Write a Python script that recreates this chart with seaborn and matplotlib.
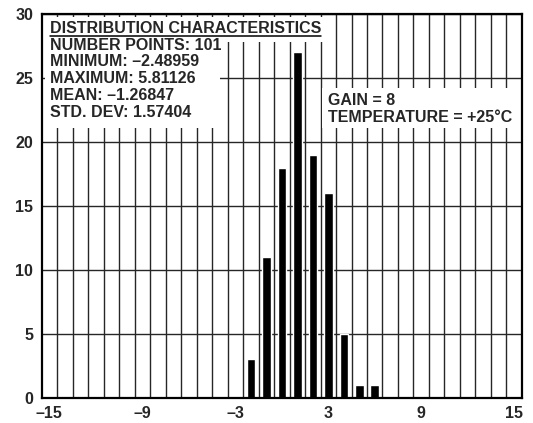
import numpy as np
import seaborn as sns
import matplotlib.pyplot as plt
from matplotlib.patches import Rectangle

# histogram data
bins = [-2, -1, 0, 1, 2, 3, 4, 5, 6]
counts = [3, 11, 18, 27, 19, 16, 5, 1, 1]
x_ticks = [-15, -9, -3, 3, 9, 15]
x_labels = ['–15', '–9', '–3', '3', '9', '15']
y_ticks = [0, 5, 10, 15, 20, 25, 30]

stats_title = 'DISTRIBUTION CHARACTERISTICS'
stats_lines = ['NUMBER POINTS: 101', 'MINIMUM: –2.48959', 'MAXIMUM: 5.81126',
               'MEAN: –1.26847', 'STD. DEV: 1.57404']
cond_lines = ['GAIN = 8', 'TEMPERATURE = +25°C']

sns.set_style('white')
plt.rcParams['font.family'] = ['Liberation Sans', 'DejaVu Sans']
plt.rcParams['font.weight'] = 'bold'
fs = 11.5

fig = plt.figure(figsize=(5.33, 4.23), dpi=100)
ax = fig.add_axes([0.0782, 0.0598, 0.901, 0.907])

sns.barplot(x=bins, y=counts, native_scale=True, color='black', width=0.55,
            errorbar=None, saturation=1, ax=ax, zorder=2)

ax.set_xlim(-15.5, 15.5)
ax.set_ylim(0, 30)
ax.set_xlabel('')
ax.set_ylabel('')

# grid: one line per bin edge, horizontal every 5
ax.set_xticks(x_ticks)
ax.set_xticklabels(x_labels)
ax.set_xticks(np.arange(-14.5, 15, 1), minor=True)
ax.set_yticks(y_ticks)
ax.set_axisbelow(True)
ax.grid(which='minor', axis='x', color='#262626', lw=1.0)
ax.grid(which='major', axis='y', color='#262626', lw=1.0)
ax.grid(False, which='major', axis='x')
ax.tick_params(which='both', length=0, labelsize=fs)
ax.tick_params(axis='x', pad=6)
ax.tick_params(axis='y', pad=6)
for lab in ax.get_xticklabels() + ax.get_yticklabels():
    lab.set_fontweight('bold')

for sp in ax.spines.values():
    sp.set_visible(True)
    sp.set_color('black')
    sp.set_linewidth(1.6)

# white panels behind the text blocks
for (x0, y0, w, h) in [(0.006, 0.703, 0.366, 0.289),
                       (0.006, 0.927, 0.580, 0.065),
                       (0.584, 0.703, 0.413, 0.104)]:
    ax.add_patch(Rectangle((x0, y0), w, h, transform=ax.transAxes,
                           facecolor='white', edgecolor='none', zorder=1))

ax.text(0.0173, 0.9497, stats_title, transform=ax.transAxes, fontsize=fs,
        fontweight='bold', va='baseline', zorder=3)
ax.plot([0.0173, 0.581], [0.9419, 0.9419], transform=ax.transAxes,
        color='black', lw=1.1, zorder=3)

step = 0.0438
for i, line in enumerate(stats_lines):
    ax.text(0.0173, 0.9075 - i * step, line, transform=ax.transAxes,
            fontsize=fs, fontweight='bold', va='baseline', zorder=3)

for i, line in enumerate(cond_lines):
    ax.text(0.5965, 0.7628 - i * step, line, transform=ax.transAxes,
            fontsize=fs, fontweight='bold', va='baseline', zorder=3)

fig.savefig('out.png', dpi=100)
